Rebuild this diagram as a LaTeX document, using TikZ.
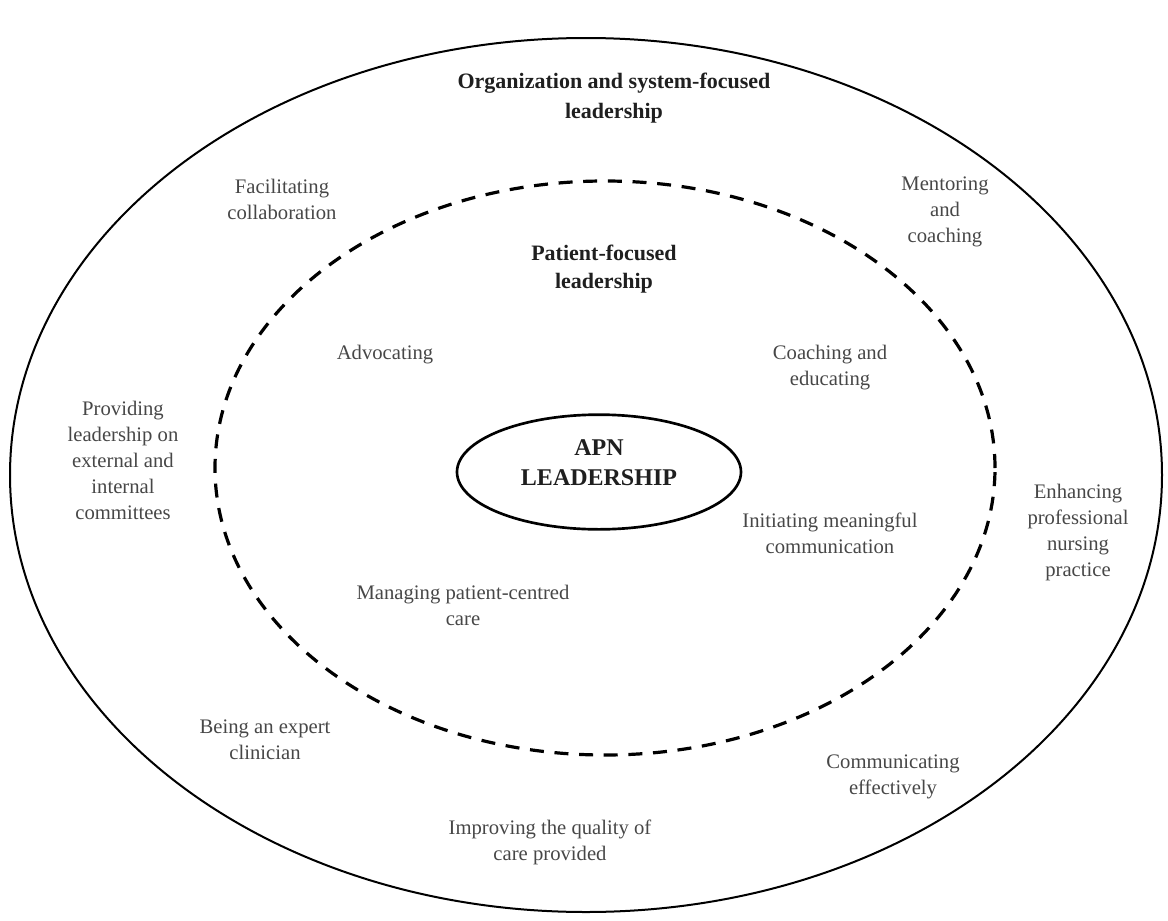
\documentclass[tikz,border=0pt]{standalone}
\usepackage{fontspec}
\setmainfont{Liberation Serif}
\usepackage{tikz}
\usetikzlibrary{shapes.geometric}

\begin{document}
\begin{tikzpicture}[
    x=0.75pt, y=-0.75pt,
    item/.style={align=center, text=black!72, font=\fontsize{15.5}{19.5}\selectfont},
    head/.style={align=center, text=black!88, font=\fontsize{16.5}{22.5}\selectfont\bfseries}
]
\useasboundingbox (0,0) rectangle (1168,921);
% rings
\node [ellipse, draw, line width=1.5pt, minimum width=864pt, minimum height=655.5pt] (outer) at (586,475) {};
\node [ellipse, draw, line width=2.4pt, dash pattern=on 10.5pt off 8pt, minimum width=585pt, minimum height=430.5pt] (inner) at (605,468) {};
\node [ellipse, draw, line width=2pt, minimum width=213pt, minimum height=86pt] (apn) at (599,472) {};
\node [head, font=\fontsize{18}{23}\selectfont\bfseries] (apntext) at ([yshift=7pt]apn.center) {APN\\LEADERSHIP};
% titles
\node [head] (org) at (614,98) {Organization and system-focused\\leadership};
\node [head, font=\fontsize{16.5}{21}\selectfont\bfseries] (pat) at (604,269) {Patient-focused\\leadership};
% outer ring
\node [item] (facil) at (282,199) {Facilitating\\collaboration};
\node [item] (mentor) at (945,212) {Mentoring\\and\\coaching};
\node [item] (provide) at (123,460) {Providing\\leadership on\\external and\\internal\\committees};
\node [item] (enhance) at (1078,533) {Enhancing\\professional\\nursing\\practice};
\node [item] (expert) at (265,740) {Being an expert\\clinician};
\node [item] (commeff) at (893,777) {Communicating\\effectively};
\node [item] (quality) at (550,842) {Improving the quality of\\care provided};
% inner ring
\node [item] (advoc) at (385,355) {Advocating};
\node [item] (coach) at (830,368) {Coaching and\\educating};
\node [item] (initiate) at (830,533) {Initiating meaningful\\communication};
\node [item] (manage) at (463,605) {Managing patient-centred\\care};
\end{tikzpicture}
\end{document}
